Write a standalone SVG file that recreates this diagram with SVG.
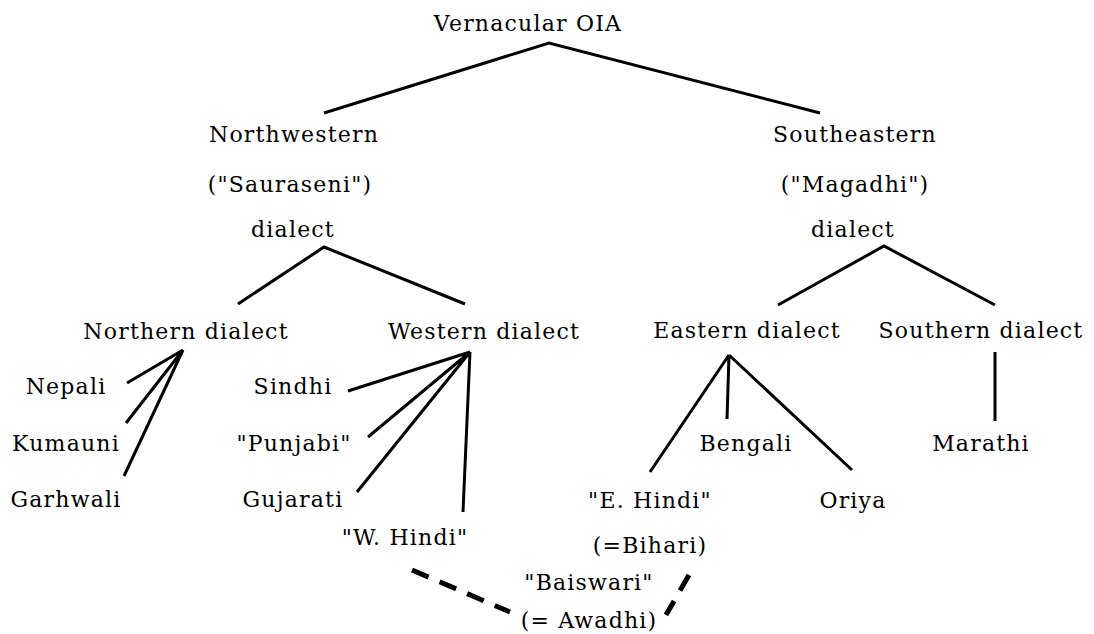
<svg xmlns="http://www.w3.org/2000/svg" width="1094" height="634" viewBox="0 0 1094 634">
<style>
text{font-family:"DejaVu Serif","Liberation Serif",serif;font-size:22px;letter-spacing:1.2px;fill:#000;text-anchor:middle}
.e{stroke:#000;stroke-width:3;fill:none;stroke-linecap:butt}
.d{stroke:#000;stroke-width:5;fill:none;stroke-dasharray:18 12}
</style>
<rect width="1094" height="634" fill="#fff"/>
<g id="connectors">
<path class="e" d="M324 113 L549 43 L820 113"/>
<path class="e" d="M238 304 L324 247 L465 304"/>
<path class="e" d="M778 305 L884 246 L995 305"/>
<path class="e" d="M127 383 L183 350 M126 423 L183 350 M124 476 L183 350"/>
<path class="e" d="M348 391 L470 352 M368 437 L470 352 M357 492 L470 352 M463 512 L470 352"/>
<path class="e" d="M650 472 L729 355 M727 419 L729 355 M852 470 L729 355"/>
<path class="e" d="M995 352 L995 421"/>
<path class="d" d="M412 570 L510 612"/>
<path class="d" d="M689 575 L666 615"/>
</g>
<g id="n-root"><text x="528" y="31">Vernacular OIA</text></g>
<g id="n-nw"><text x="294" y="142">Northwestern</text><text x="290" y="192">("Sauraseni")</text><text x="293" y="237">dialect</text></g>
<g id="n-se"><text x="855" y="142">Southeastern</text><text x="855" y="192">("Magadhi")</text><text x="853" y="237">dialect</text></g>
<g id="n-northern"><text x="186" y="339">Northern dialect</text></g>
<g id="n-western"><text x="484" y="339">Western dialect</text></g>
<g id="n-eastern"><text x="747" y="338">Eastern dialect</text></g>
<g id="n-southern"><text x="981" y="338">Southern dialect</text></g>
<g id="n-nepali"><text x="66" y="394">Nepali</text></g>
<g id="n-kumauni"><text x="66" y="451">Kumauni</text></g>
<g id="n-garhwali"><text x="66" y="507">Garhwali</text></g>
<g id="n-sindhi"><text x="293" y="394">Sindhi</text></g>
<g id="n-punjabi"><text x="294" y="451">"Punjabi"</text></g>
<g id="n-gujarati"><text x="293" y="507">Gujarati</text></g>
<g id="n-whindi"><text x="405" y="545">"W. Hindi"</text></g>
<g id="n-bengali"><text x="746" y="451">Bengali</text></g>
<g id="n-marathi"><text x="981" y="451">Marathi</text></g>
<g id="n-ehindi"><text x="650" y="508">"E. Hindi"</text><text x="650" y="553">(=Bihari)</text></g>
<g id="n-oriya"><text x="853" y="508">Oriya</text></g>
<g id="n-baiswari"><text x="589" y="590">"Baiswari"</text><text x="589" y="628">(= Awadhi)</text></g>
</svg>
